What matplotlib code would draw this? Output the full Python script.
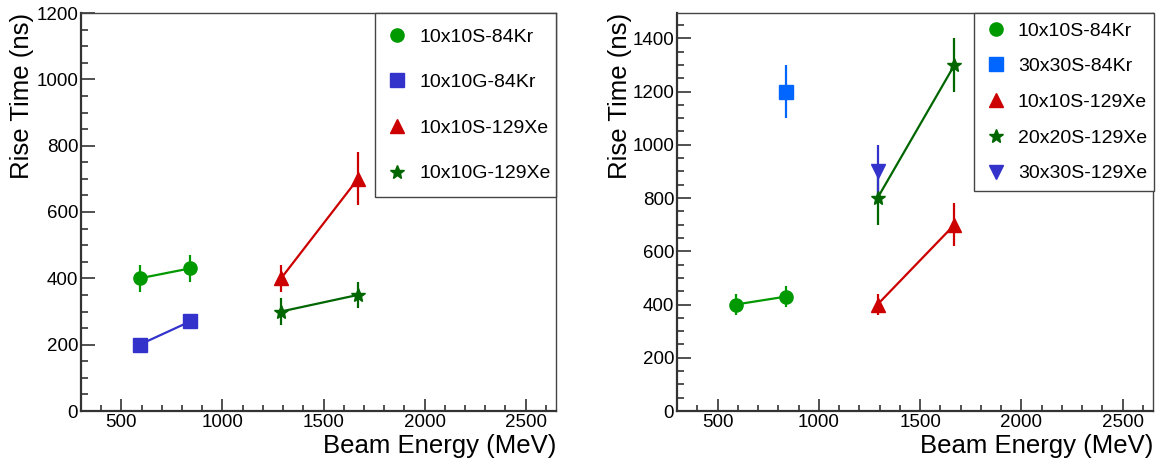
import numpy as np
import matplotlib
matplotlib.use("Agg")
import matplotlib.pyplot as plt
from matplotlib.lines import Line2D
from matplotlib.ticker import MultipleLocator

plt.rcParams['font.family'] = ['Liberation Sans', 'DejaVu Sans']

# ---- data ----
# left panel
kr_s10_e = [590, 840]
kr_s10_t = [400, 430]
kr_s10_err = [40, 40]

kr_g10_e = [590, 840]
kr_g10_t = [200, 270]

xe_s10_e = [1290, 1670]
xe_s10_t = [400, 700]
xe_s10_err = [40, 80]

xe_g10_e = [1290, 1670]
xe_g10_t = [300, 350]
xe_g10_err = [40, 40]

# right panel
kr_s30_e = [840]
kr_s30_t = [1200]
kr_s30_err = [100]

xe_s20_e = [1290, 1670]
xe_s20_t = [800, 1300]
xe_s20_err = [100, 100]

xe_s30_e = [1290]
xe_s30_t = [900]
xe_s30_err = [100]

C_GREEN = '#009900'
C_DKGREEN = '#006600'
C_RED = '#cc0000'
C_BLUE = '#3333cc'
C_AZURE = '#0066ff'

W, H = 1157, 463
fig = plt.figure(figsize=(W/100, H/100), dpi=100)
ax1 = fig.add_axes([81/W, 52/H, 475/W, 398/H])
ax2 = fig.add_axes([677/W, 52/H, 476/W, 398/H])


def series(ax, x, y, err, color, marker, ms, label):
    ax.errorbar(x, y, yerr=err, color=color, marker=marker, ms=ms, lw=1.6,
                elinewidth=1.6, capsize=0, mec=color, mfc=color)
    return Line2D([], [], color=color, marker=marker, ms=ms, ls='none', label=label)


def style(ax, ymax, ylab_x):
    ax.set_xlim(300, 2650)
    ax.set_ylim(0, ymax)
    ax.xaxis.set_major_locator(MultipleLocator(500))
    ax.xaxis.set_minor_locator(MultipleLocator(100))
    ax.yaxis.set_major_locator(MultipleLocator(200))
    ax.yaxis.set_minor_locator(MultipleLocator(50))
    ax.tick_params(which='both', direction='in', top=False, right=False,
                   color='#333333', width=1.2, labelsize=13.5)
    ax.tick_params(axis='y', which='major', length=10, pad=2)
    ax.tick_params(axis='y', which='minor', length=5)
    ax.tick_params(axis='x', which='major', length=9, pad=2)
    ax.tick_params(axis='x', which='minor', length=4.5)
    for s in ['left', 'bottom']:
        ax.spines[s].set_linewidth(1.6)
        ax.spines[s].set_color('#333333')
    for s in ['top', 'right']:
        ax.spines[s].set_linewidth(1.0)
        ax.spines[s].set_color('#444444')
    ax.set_xlabel('Beam Energy (MeV)', fontsize=18.5)
    ax.xaxis.set_label_coords(1.0, -0.088)
    ax.xaxis.label.set_ha('right')
    ax.xaxis.label.set_va('center')
    ax.set_ylabel('Rise Time (ns)', fontsize=18.5)
    ax.yaxis.set_label_coords(ylab_x, 1.0)
    ax.yaxis.label.set_ha('right')
    ax.yaxis.label.set_va('center')


# left panel
h1 = [
    series(ax1, kr_s10_e, kr_s10_t, kr_s10_err, C_GREEN, 'o', 9.5, '10x10S-84Kr'),
    series(ax1, kr_g10_e, kr_g10_t, None, C_BLUE, 's', 9.5, '10x10G-84Kr'),
    series(ax1, xe_s10_e, xe_s10_t, xe_s10_err, C_RED, '^', 10, '10x10S-129Xe'),
    series(ax1, xe_g10_e, xe_g10_t, xe_g10_err, C_DKGREEN, '*', 10, '10x10G-129Xe'),
]
style(ax1, 1200, -0.124)
leg1 = ax1.legend(handles=h1, loc='upper left', bbox_to_anchor=(0.619, 0, 0.381, 1.0),
                  mode='expand', borderaxespad=0, fontsize=14, labelspacing=1.44,
                  borderpad=0.77, handlelength=0.72, handletextpad=0.82,
                  fancybox=False, framealpha=1, edgecolor='#444444')
leg1.get_frame().set_linewidth(1.0)

# right panel
h2 = [
    series(ax2, kr_s10_e, kr_s10_t, kr_s10_err, C_GREEN, 'o', 9.5, '10x10S-84Kr'),
    series(ax2, kr_s30_e, kr_s30_t, kr_s30_err, C_AZURE, 's', 9.5, '30x30S-84Kr'),
    series(ax2, xe_s10_e, xe_s10_t, xe_s10_err, C_RED, '^', 10, '10x10S-129Xe'),
    series(ax2, xe_s20_e, xe_s20_t, xe_s20_err, C_DKGREEN, '*', 10, '20x20S-129Xe'),
    series(ax2, xe_s30_e, xe_s30_t, xe_s30_err, C_BLUE, 'v', 10, '30x30S-129Xe'),
]
style(ax2, 1495, -0.12)
leg2 = ax2.legend(handles=h2, loc='upper left', bbox_to_anchor=(0.624, 0, 0.378, 1.0),
                  mode='expand', borderaxespad=0, fontsize=14, labelspacing=0.93,
                  borderpad=0.46, handlelength=1.34, handletextpad=0.46,
                  fancybox=False, framealpha=1, edgecolor='#444444')
leg2.get_frame().set_linewidth(1.0)

fig.savefig('out.png', dpi=100)
